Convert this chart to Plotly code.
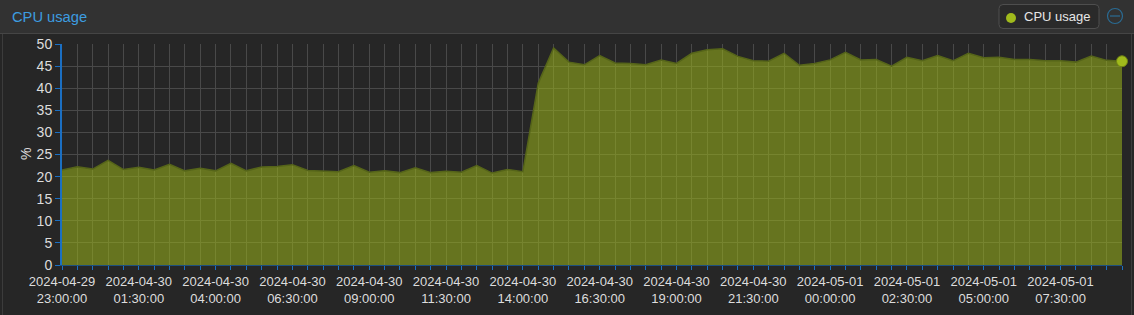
import plotly.graph_objects as go
import pandas as pd

# ---- data ----
start_time = "2024-04-29 23:00:00"
n_points = 70
times = pd.date_range(start_time, periods=n_points, freq="30min")
cpu_usage = [
    21.5, 22.2, 21.7, 23.7, 21.6, 22.1, 21.5, 22.8, 21.3, 21.9,
    21.3, 23.0, 21.3, 22.2, 22.3, 22.7, 21.4, 21.3, 21.1, 22.5,
    21.0, 21.3, 20.9, 22.0, 20.9, 21.2, 21.0, 22.5, 20.8, 21.6,
    21.1, 41.1, 49.1, 45.9, 45.3, 47.4, 45.7, 45.6, 45.3, 46.4,
    45.6, 47.9, 48.7, 48.9, 47.2, 46.2, 46.1, 47.9, 45.2, 45.6,
    46.4, 48.1, 46.4, 46.5, 45.0, 47.0, 46.2, 47.4, 46.2, 47.9,
    46.9, 47.0, 46.5, 46.5, 46.2, 46.2, 45.9, 47.3, 46.3, 46.1,
]
tick_labels = [
    "2024-04-29<br>23:00:00", "2024-04-30<br>01:30:00", "2024-04-30<br>04:00:00",
    "2024-04-30<br>06:30:00", "2024-04-30<br>09:00:00", "2024-04-30<br>11:30:00",
    "2024-04-30<br>14:00:00", "2024-04-30<br>16:30:00", "2024-04-30<br>19:00:00",
    "2024-04-30<br>21:30:00", "2024-05-01<br>00:00:00", "2024-05-01<br>02:30:00",
    "2024-05-01<br>05:00:00", "2024-05-01<br>07:30:00",
]
series_name = "CPU usage"
panel_title = "CPU usage"
y_title = "%"

# ---- styling ----
W, H = 1134, 315
ML, MR, MT, MB = 62, 12, 44, 50
PW, PH = W - ML - MR, H - MT - MB
FONT = "Liberation Sans, Arial, sans-serif"
PANEL = "#262626"
BAR = "#323232"
GRID = "#494949"
AXIS_BLUE = "#1b6fc2"
GREEN = "#a0ba1c"


def px(x):
    return (x - ML) / PW


def py(y):
    return (H - MB - y) / PH


def rounded_rect(x0, y0, x1, y1, r):
    # pixel coords -> paper-coordinate SVG path with rounded corners
    X = lambda v: px(v)
    Y = lambda v: py(v)
    return (
        f"M {X(x0 + r)} {Y(y0)} L {X(x1 - r)} {Y(y0)} Q {X(x1)} {Y(y0)} {X(x1)} {Y(y0 + r)} "
        f"L {X(x1)} {Y(y1 - r)} Q {X(x1)} {Y(y1)} {X(x1 - r)} {Y(y1)} "
        f"L {X(x0 + r)} {Y(y1)} Q {X(x0)} {Y(y1)} {X(x0)} {Y(y1 - r)} "
        f"L {X(x0)} {Y(y0 + r)} Q {X(x0)} {Y(y0)} {X(x0 + r)} {Y(y0)} Z"
    )


# tick values: every 30 min grid, label every 5th
tickvals = list(times)
ticktext = []
li = 0
for i in range(len(times)):
    if i % 5 == 0 and li < len(tick_labels):
        ticktext.append(tick_labels[li])
        li += 1
    else:
        ticktext.append("")

fig = go.Figure()
fig.add_trace(go.Scatter(
    x=times, y=cpu_usage, mode="lines", fill="tozeroy",
    line=dict(color="#556419", width=1.5),
    fillcolor="rgba(154,181,26,0.55)",
    showlegend=False, hoverinfo="x+y", name=series_name,
))
fig.add_trace(go.Scatter(
    x=[times[-1]], y=[cpu_usage[-1]], mode="markers", name=series_name,
    marker=dict(color=GREEN, size=11, line=dict(color="#6f8214", width=1)),
    cliponaxis=False, showlegend=False,
))

shapes = [
    # title bar
    dict(type="rect", xref="paper", yref="paper", x0=px(0), x1=px(W), y0=py(33), y1=py(0),
         fillcolor=BAR, line=dict(width=0), layer="below"),
    dict(type="line", xref="paper", yref="paper", x0=px(0), x1=px(W), y0=py(33.5), y1=py(33.5),
         line=dict(color="#454545", width=1)),
    # panel borders
    dict(type="line", xref="paper", yref="paper", x0=px(2.5), x1=px(2.5), y0=py(34), y1=py(H),
         line=dict(color="#3c3c3c", width=1)),
    dict(type="line", xref="paper", yref="paper", x0=px(1131.5), x1=px(1131.5), y0=py(34), y1=py(H),
         line=dict(color="#3c3c3c", width=1)),
    # legend box
    dict(type="path", xref="paper", yref="paper", path=rounded_rect(999, 4.5, 1099, 28.5, 4),
         fillcolor="#2a2a2a", line=dict(color="#4e4e4e", width=1)),
    dict(type="circle", xref="paper", yref="paper", x0=px(1006), x1=px(1016), y0=py(23), y1=py(13),
         fillcolor=GREEN, line=dict(width=0)),
    # collapse icon
    dict(type="circle", xref="paper", yref="paper", x0=px(1107.5), x1=px(1122.5), y0=py(23.5), y1=py(8.5),
         line=dict(color="#2a6b93", width=1.2)),
    dict(type="line", xref="paper", yref="paper", x0=px(1110), x1=px(1120), y0=py(16), y1=py(16),
         line=dict(color="#2a6b93", width=1.2)),
]

fig.update_layout(
    width=W, height=H,
    margin=dict(l=ML, r=MR, t=MT, b=MB, pad=0, autoexpand=False),
    paper_bgcolor=PANEL, plot_bgcolor=PANEL,
    font=dict(family=FONT, size=12, color="#dddddd"),
    shapes=shapes,
    showlegend=False,
    annotations=[
        dict(text=panel_title, xref="paper", yref="paper", x=px(10), y=py(17),
             xanchor="left", yanchor="middle", showarrow=False,
             font=dict(family=FONT, size=14.7, color="#3d9de0")),
        dict(text=series_name, xref="paper", yref="paper", x=px(1022), y=py(17),
             xanchor="left", yanchor="middle", showarrow=False,
             font=dict(family=FONT, size=13, color="#e6e6e6")),
        dict(text=y_title, xref="paper", yref="paper", x=px(26), y=py(154),
             xanchor="center", yanchor="middle", showarrow=False, textangle=-90,
             font=dict(family=FONT, size=14, color="#dddddd")),
    ],
    xaxis=dict(
        range=[times[0], times[-1]],
        tickmode="array", tickvals=tickvals, ticktext=ticktext,
        showgrid=True, gridcolor=GRID, gridwidth=1,
        ticks="outside", ticklen=4, tickcolor=AXIS_BLUE,
        showline=True, linecolor="#1d4f7e", linewidth=1,
        tickfont=dict(family=FONT, size=13, color="#dddddd"),
        zeroline=False, fixedrange=True,
    ),
    yaxis=dict(
        range=[0, 50], dtick=5, tick0=0,
        showgrid=True, gridcolor=GRID, gridwidth=1,
        ticks="outside", ticklen=5, tickcolor=AXIS_BLUE,
        showline=True, linecolor=AXIS_BLUE, linewidth=2,
        tickfont=dict(family=FONT, size=14, color="#dddddd"),
        zeroline=False, fixedrange=True,
    ),
)

fig.write_html("out.html", config={"displayModeBar": False})
